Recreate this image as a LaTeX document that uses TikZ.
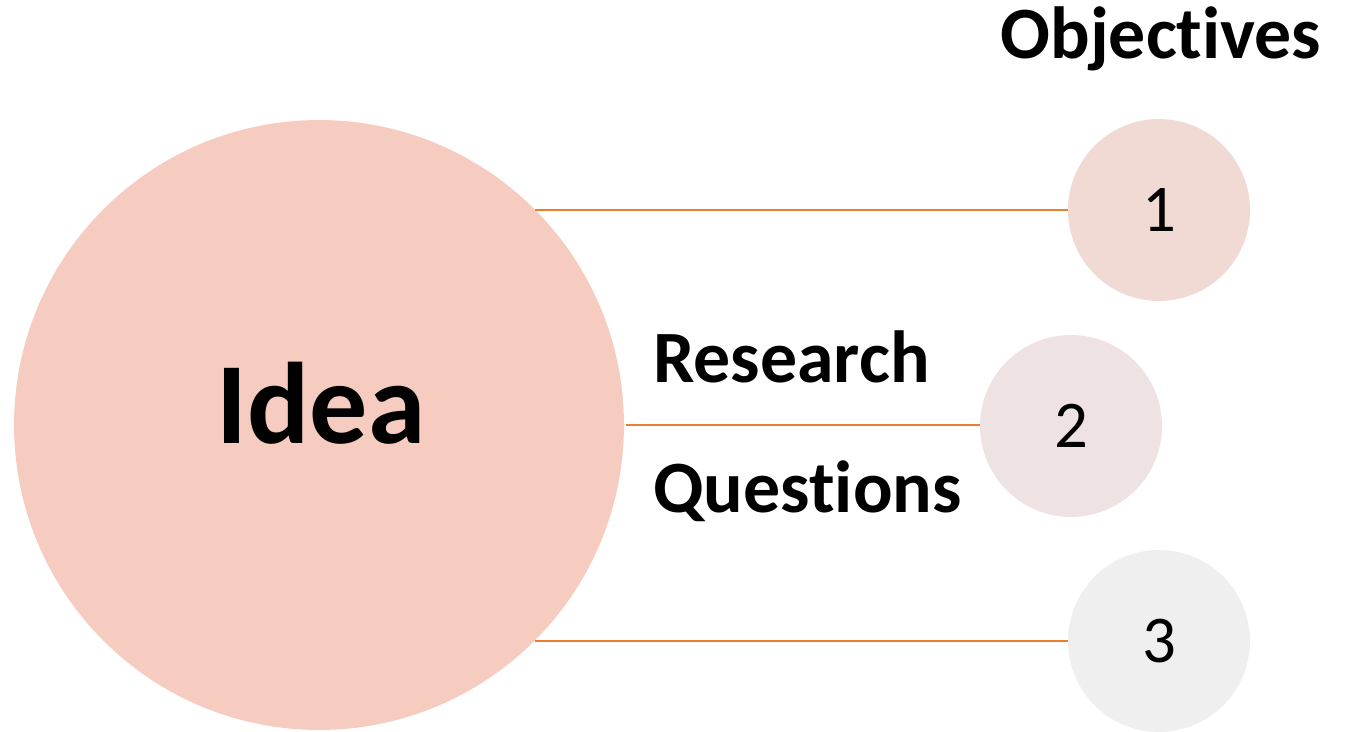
\documentclass[tikz,border=0pt]{standalone}
\usepackage{fontspec}
\setmainfont{Carlito}[Ligatures=NoCommon]
\usetikzlibrary{positioning}

\definecolor{ideafill}{HTML}{F5CCBF}
\definecolor{objfilla}{HTML}{F1D9D4}
\definecolor{objfillb}{HTML}{EFE2E3}
\definecolor{objfillc}{HTML}{EFEFEF}
\definecolor{linkorange}{HTML}{ED7D31}

\begin{document}
\begin{tikzpicture}[
    x=0.02cm, y=-0.02cm,
    bigcircle/.style={circle, fill=ideafill, inner sep=0pt, minimum size=12.2cm},
    objcircle/.style={circle, inner sep=0pt, minimum size=3.64cm, font=\fontsize{38}{40}\selectfont},
    link/.style={linkorange, line width=1.2pt},
    heading/.style={font=\bfseries\fontsize{42}{46}\selectfont, inner sep=0pt}
]
% Canvas
\useasboundingbox (0,0) rectangle (1350,731);
\clip (0,0) rectangle (1350,731);

% Central idea
\node[bigcircle] (idea) at (319,425) {};
\node[font=\bfseries\fontsize{66}{72}\selectfont, inner sep=0pt, anchor=base] (idealabel) at (321,443) {Idea};

% Objective circles
\node[objcircle, fill=objfilla] (obj1) at (1159,210) {1};
\node[objcircle, fill=objfillb] (obj2) at (1071,426) {2};
\node[objcircle, fill=objfillc] (obj3) at (1159,641) {3};

% Links
\draw[link] (obj1.west) -- (obj1.west -| idea.45);
\draw[link] (idea.east) ++(2,0) coordinate (ideaeast) -- (obj2.west |- ideaeast);
\draw[link] (obj3.west) -- (obj3.west -| idea.-45);

% Labels
\node[heading, anchor=base] (objectives) at (1161,58) {Objectives};
\node[heading, anchor=base west] (research) at (653,382) {Research};
\node[heading, anchor=base west] (questions) at (653,512) {Questions};

\end{tikzpicture}
\end{document}
